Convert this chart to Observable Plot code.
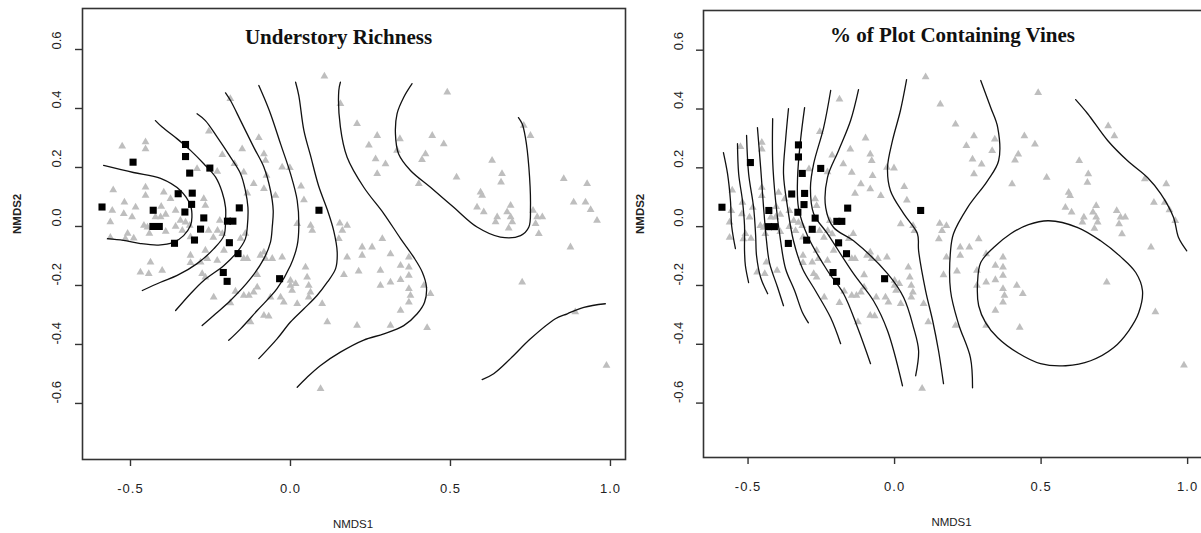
<!DOCTYPE html>
<html>
<head>
<meta charset="utf-8">
<script src="https://cdn.jsdelivr.net/npm/d3@7"></script>
<script src="https://cdn.jsdelivr.net/npm/@observablehq/plot@0.6"></script>
<style>
  html, body { margin: 0; padding: 0; background: #fff; overflow: hidden; }
  #chart { position: relative; width: 1201px; height: 533px; overflow: hidden; background: #fff; }
  #chart > div { position: absolute; top: 0; }
  #chart svg { max-width: none !important; display: block; }
  g[aria-label="x-axis tick label"] { font-size: 13px; letter-spacing: 1px; }
  g[aria-label="y tick labels"] text { letter-spacing: 1px; }
  g[aria-label="axis title"] text { letter-spacing: 2px; }
</style>
</head>
<body>
<div id="chart">
  <div id="left" style="left:0px"></div>
  <div id="right" style="left:628px"></div>
</div>
<script>
// Axis ticks shared by both ordination panels
const xTicks = [-0.5, 0.0, 0.5, 1.0];
const yTicks = [-0.6, -0.4, -0.2, 0.0, 0.2, 0.4, 0.6];

// NMDS site scores (same ordination in both panels)
const greySites = [
  [-0.526,0.272],[-0.453,0.286],[-0.453,0.263],[-0.255,0.323],[-0.188,0.433],
  [-0.292,0.196],[-0.229,0.186],[-0.213,0.243],[-0.175,0.213],[-0.151,0.263],
  [-0.146,0.184],[-0.099,0.301],[-0.083,0.246],[-0.078,0.224],[-0.115,0.145],
  [-0.075,0.173],[-0.083,0.128],[-0.047,0.105],[-0.026,0.201],[-0.002,0.199],
  [0.033,0.136],[0.042,0.09],[0.021,0.009],[0.063,0.003],[0.154,0.011],
  [0.177,0.003],[-0.135,0.113],[-0.221,0.02],[-0.271,0.094],[-0.266,0.071],
  [-0.554,0.124],[-0.519,0.082],[-0.453,0.133],[-0.453,0.105],[-0.484,0.065],
  [-0.521,0.043],[-0.557,0.054],[-0.396,0.116],[-0.375,0.094],[-0.404,0.068],
  [-0.39,0.041],[-0.359,0.054],[-0.406,0.032],[-0.422,0.032],[-0.495,0.032],
  [-0.458,0.003],[-0.563,0.015],[-0.344,0.02],[-0.315,0.003],[-0.359,0.0],
  [-0.328,0.014],[-0.338,-0.014],[-0.447,-0.003],[-0.441,-0.024],[-0.509,-0.024],
  [-0.563,-0.037],[-0.228,-0.014],[-0.241,-0.037],[-0.141,-0.024],[-0.156,-0.041],
  [-0.256,-0.014],[-0.516,-0.042],[-0.49,-0.04],[-0.39,-0.017],[-0.3125,-0.036],
  [-0.213,-0.025],[-0.266,-0.081],[-0.26,-0.109],[-0.229,-0.115],[-0.208,-0.081],
  [-0.3125,-0.098],[-0.3125,-0.123],[-0.281,-0.121],[-0.276,-0.16],[-0.266,-0.172],
  [-0.146,-0.109],[-0.135,-0.109],[-0.083,-0.087],[-0.078,-0.109],[-0.094,-0.098],
  [-0.057,-0.109],[-0.026,-0.104],[-0.104,-0.164],[-0.172,-0.22],[-0.24,-0.24],
  [-0.188,-0.259],[-0.146,-0.234],[-0.13,-0.234],[-0.115,-0.223],[-0.104,-0.206],
  [-0.0625,-0.24],[-0.031,-0.24],[-0.021,-0.257],[-0.083,-0.302],[-0.068,-0.304],
  [-0.125,-0.324],[0.0,-0.2],[0.005,-0.217],[0.0,-0.183],[0.021,-0.262],
  [0.047,-0.138],[0.052,-0.172],[0.057,-0.2],[0.0625,-0.223],[0.057,-0.24],
  [0.099,-0.262],[0.115,-0.324],[0.094,-0.55],[0.177,-0.104],[0.167,-0.164],
  [0.151,-0.042],[0.208,-0.336],[-0.443,-0.16],[-0.469,-0.155],[-0.401,-0.149],
  [-0.4375,-0.121],
  [0.106,0.509],[0.156,0.416],[0.208,0.348],[0.271,0.308],[0.245,0.275],
  [0.342,0.297],[0.443,0.308],[0.479,0.28],[0.266,0.229],[0.297,0.212],
  [0.271,0.179],[0.333,0.258],[0.422,0.246],[0.411,0.226],[0.519,0.167],
  [0.401,0.145],[0.49,0.455],[0.63,0.224],[0.661,0.179],[0.658,0.15],
  [0.594,0.116],[0.599,0.105],[0.583,0.065],[0.604,0.049],[0.646,0.032],
  [0.641,0.015],[0.688,0.071],[0.677,0.049],[0.688,0.032],[0.693,0.015],
  [0.729,0.342],[0.75,0.308],[0.758,0.054],[0.771,0.032],[0.787,0.032],
  [0.766,0.009],[0.776,-0.025],[0.854,0.162],[0.927,0.145],[0.885,0.082],
  [0.922,0.082],[0.938,0.057],[0.958,0.02],[0.875,-0.07],[0.224,-0.07],
  [0.255,-0.07],[0.287,-0.042],[0.068,-0.014],[0.162,-0.014],
  [0.224,-0.098],[0.3125,-0.093],[0.37,-0.104],[0.213,-0.152],[0.281,-0.149],
  [0.344,-0.132],[0.37,-0.138],[0.37,-0.166],[0.344,-0.181],[0.3125,-0.189],
  [0.281,-0.2],[0.016,-0.194],[0.37,-0.211],[0.375,-0.234],[0.37,-0.257],
  [0.417,-0.2],[0.4375,-0.228],[0.344,-0.285],[0.3125,-0.336],[0.427,-0.343],
  [0.682,-0.006],[0.724,-0.189],[0.89,-0.29],[0.9875,-0.471]
];

const blackSites = [
  [-0.328,0.278],[-0.328,0.237],[-0.492,0.218],[-0.252,0.198],[-0.315,0.181],
  [-0.307,0.113],[-0.351,0.111],[-0.309,0.075],[-0.589,0.066],[-0.429,0.055],
  [-0.16,0.063],[-0.33,0.049],[-0.271,0.029],[-0.197,0.018],[-0.18,0.018],
  [-0.43,0.0],[-0.41,0.0],[-0.281,-0.009],[0.089,0.055],[-0.3625,-0.057],
  [-0.3,-0.046],[-0.191,-0.055],[-0.164,-0.092],[-0.21,-0.156],[-0.198,-0.186],
  [-0.034,-0.177]
];

// Fitted surface isolines: understory richness
const richnessLines = [
  [[-0.584,0.207],[-0.491,0.183],[-0.406,0.163],[-0.344,0.122],[-0.3125,0.071],[-0.308,0.031],[-0.3125,0.003],[-0.334,-0.031],[-0.366,-0.054],[-0.4125,-0.063],[-0.469,-0.058],[-0.522,-0.047],[-0.572,-0.041]],
  [[-0.422,0.359],[-0.401,0.337],[-0.354,0.297],[-0.3125,0.258],[-0.271,0.2125],[-0.234,0.167],[-0.2135,0.116],[-0.203,0.065],[-0.203,0.02],[-0.208,-0.031],[-0.24,-0.076],[-0.292,-0.126],[-0.354,-0.166],[-0.406,-0.189],[-0.463,-0.217]],
  [[-0.292,0.382],[-0.266,0.359],[-0.229,0.303],[-0.1875,0.235],[-0.156,0.179],[-0.141,0.122],[-0.133,0.065],[-0.135,-0.002],[-0.141,-0.042],[-0.167,-0.087],[-0.208,-0.132],[-0.271,-0.183],[-0.3125,-0.228],[-0.359,-0.285]],
  [[-0.203,0.453],[-0.1875,0.427],[-0.156,0.359],[-0.115,0.269],[-0.083,0.201],[-0.0625,0.122],[-0.054,0.054],[-0.057,-0.002],[-0.0625,-0.053],[-0.083,-0.109],[-0.125,-0.177],[-0.1875,-0.251],[-0.234,-0.296],[-0.276,-0.336]],
  [[-0.099,0.478],[-0.083,0.438],[-0.0625,0.382],[-0.031,0.28],[0.0,0.179],[0.021,0.088],[0.026,-0.002],[0.021,-0.064],[0.0,-0.132],[-0.042,-0.211],[-0.104,-0.285],[-0.156,-0.347],[-0.193,-0.386]],
  [[0.016,0.489],[0.026,0.444],[0.042,0.325],[0.0625,0.241],[0.0875,0.139],[0.116,0.054],[0.135,-0.014],[0.146,-0.087],[0.141,-0.143],[0.115,-0.189],[0.083,-0.234],[0.042,-0.279],[0.0,-0.324],[-0.042,-0.381],[-0.099,-0.448]],
  [[0.156,0.489],[0.151,0.461],[0.156,0.337],[0.177,0.235],[0.229,0.133],[0.292,0.043],[0.344,-0.041],[0.385,-0.104],[0.412,-0.155],[0.425,-0.206],[0.419,-0.257],[0.396,-0.296],[0.354,-0.336],[0.292,-0.364],[0.229,-0.385],[0.156,-0.426],[0.094,-0.471],[0.052,-0.511],[0.021,-0.545]],
  [[0.38,0.484],[0.354,0.438],[0.333,0.382],[0.328,0.314],[0.338,0.246],[0.375,0.19],[0.4375,0.133],[0.51,0.065],[0.583,-0.002],[0.656,-0.036],[0.719,-0.031],[0.745,-0.002],[0.75,0.065],[0.745,0.201],[0.734,0.303],[0.724,0.348],[0.7125,0.369]],
  [[0.599,-0.519],[0.635,-0.499],[0.6875,-0.448],[0.75,-0.381],[0.828,-0.313],[0.865,-0.296],[0.917,-0.274],[0.984,-0.262]]
];
const richnessLoops = [];

// Fitted surface isolines: percent of plot containing vines
const vineLines = [
  [[-0.584,0.252],[-0.570,0.180],[-0.560,0.088],[-0.556,0.003],[-0.543,-0.075]],
  [[-0.536,0.282],[-0.532,0.18],[-0.519,0.088],[-0.512,0.003],[-0.512,-0.082],[-0.509,-0.133],[-0.498,-0.19]],
  [[-0.505,0.31],[-0.498,0.18],[-0.481,0.065],[-0.474,-0.031],[-0.471,-0.099],[-0.457,-0.173],[-0.433,-0.228]],
  [[-0.468,0.337],[-0.457,0.201],[-0.447,0.065],[-0.437,-0.048],[-0.427,-0.122],[-0.399,-0.207],[-0.379,-0.269]],
  [[-0.416,0.367],[-0.416,0.224],[-0.406,0.088],[-0.389,-0.048],[-0.372,-0.143],[-0.341,-0.218],[-0.314,-0.293],[-0.294,-0.327]],
  [[-0.362,0.401],[-0.372,0.293],[-0.379,0.18],[-0.365,0.065],[-0.345,-0.048],[-0.314,-0.143],[-0.27,-0.218],[-0.218,-0.31],[-0.184,-0.398]],
  [[-0.307,0.405],[-0.321,0.293],[-0.331,0.167],[-0.328,0.065],[-0.297,-0.031],[-0.229,-0.15],[-0.174,-0.228],[-0.126,-0.344],[-0.082,-0.466]],
  [[-0.218,0.463],[-0.242,0.337],[-0.276,0.214],[-0.287,0.133],[-0.276,0.044],[-0.229,-0.024],[-0.14,-0.16],[-0.072,-0.252],[-0.024,-0.354],[0.027,-0.541]],
  [[-0.123,0.466],[-0.15,0.361],[-0.191,0.259],[-0.229,0.167],[-0.235,0.065],[-0.208,-0.003],[-0.14,-0.048],[-0.024,-0.16],[0.031,-0.241],[0.065,-0.344],[0.082,-0.422],[0.072,-0.507]],
  [[0.041,0.5],[0.02,0.395],[-0.007,0.293],[-0.024,0.201],[-0.014,0.122],[0.031,0.044],[0.078,-0.024],[0.082,-0.082],[0.106,-0.218],[0.13,-0.32],[0.15,-0.422],[0.167,-0.534]],
  [[0.294,0.497],[0.328,0.405],[0.352,0.337],[0.355,0.224],[0.317,0.156],[0.249,0.065],[0.201,-0.024],[0.191,-0.082],[0.191,-0.218],[0.218,-0.33],[0.259,-0.446],[0.266,-0.548]],
  [[0.618,0.432],[0.659,0.384],[0.727,0.293],[0.795,0.224],[0.863,0.167],[0.908,0.112],[0.952,0.031],[0.969,-0.037],[0.997,-0.082]]
];
const vineLoops = [
  [[0.526,0.02],[0.625,-0.003],[0.703,-0.048],[0.771,-0.102],[0.823,-0.156],[0.846,-0.218],[0.833,-0.293],[0.799,-0.354],[0.747,-0.412],[0.669,-0.456],[0.584,-0.473],[0.498,-0.466],[0.42,-0.429],[0.352,-0.378],[0.311,-0.327],[0.287,-0.269],[0.283,-0.194],[0.294,-0.122],[0.338,-0.071],[0.396,-0.024],[0.457,0.007]]
];

const fmt = d => d.toFixed(1);
const toRows = lines => lines.flatMap((pts, id) => pts.map(([x, y]) => ({x, y, id})));

function panel(o) {
  return Plot.plot({
    width: o.width,
    height: 533,
    marginTop: o.mt, marginRight: o.mr, marginBottom: o.mb, marginLeft: o.ml,
    x: {domain: o.xDomain},
    y: {domain: o.yDomain},
    style: {background: "white", fontFamily: "'Liberation Sans', Arial, sans-serif", color: "#222"},
    marks: [
      Plot.dot(greySites, {x: d => d[0], y: d => d[1], symbol: "triangle", r: 2.9, fill: "#bebebe"}),
      Plot.line(toRows(o.lines), {x: "x", y: "y", z: "id", curve: "catmull-rom", stroke: "#111", strokeWidth: 1.3}),
      Plot.line(toRows(o.loops), {x: "x", y: "y", z: "id", curve: "catmull-rom-closed", stroke: "#111", strokeWidth: 1.3}),
      Plot.dot(blackSites, {x: d => d[0], y: d => d[1], symbol: "square", r: 4, fill: "#000"}),
      Plot.frame({stroke: "#333", strokeWidth: 1.6}),
      Plot.axisX({ticks: xTicks, tickSize: 7, tickPadding: 17, tickFormat: fmt, label: null, stroke: "#333", strokeWidth: 1.4, fill: "#222"}),
      Plot.axisY({ticks: yTicks, tickSize: 7, tickFormat: () => "", label: null, stroke: "#333", strokeWidth: 1.4}),
      Plot.text(yTicks, {y: d => d, text: fmt, frameAnchor: "left", rotate: -90, lineAnchor: "bottom",
        dx: o.yLabDx, fontSize: 13, fill: "#222", ariaLabel: "y tick labels"}),
      Plot.text(["NMDS1"], {text: d => d, frameAnchor: "bottom", lineAnchor: "bottom", dx: o.xTitleDx, dy: 68,
        fontSize: 11.5, fill: "#222", ariaLabel: "axis title"}),
      Plot.text(["NMDS2"], {text: d => d, frameAnchor: "left", rotate: -90, lineAnchor: "bottom", dx: o.yTitleDx,
        fontSize: 11.5, fontWeight: "bold", fill: "#222", ariaLabel: "axis title"}),
      Plot.text([o.title], {text: d => d, frameAnchor: "top", lineAnchor: "middle", dx: o.titleDx, dy: o.titleDy,
        fontSize: 21, fontWeight: "bold", fontFamily: "'Liberation Serif', 'Times New Roman', serif", fill: "#111", ariaLabel: "panel title"})
    ]
  });
}

document.getElementById("left").append(panel({
  width: 628, mt: 8, mr: 3, mb: 74, ml: 82,
  xDomain: [-0.65, 1.047], yDomain: [-0.79, 0.739],
  lines: richnessLines, loops: richnessLoops,
  title: "Understory Richness", titleDx: -15.5, titleDy: 29,
  yLabDx: -22, yTitleDx: -62, xTitleDx: -1
}));

document.getElementById("right").append(panel({
  width: 577, mt: 10, mr: 0, mb: 76, ml: 75,
  xDomain: [-0.652, 1.061], yDomain: [-0.785, 0.735],
  lines: vineLines, loops: vineLoops,
  title: "% of Plot Containing Vines", titleDx: -2, titleDy: 25,
  yLabDx: -21, yTitleDx: -60, xTitleDx: -3
}));
</script>
</body>
</html>
